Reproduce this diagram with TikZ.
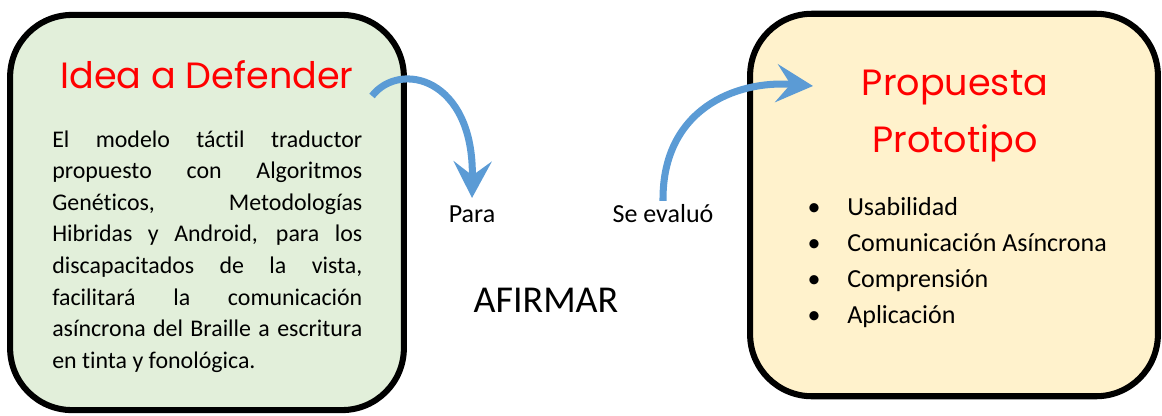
\documentclass[tikz,border=0pt]{standalone}
\usepackage{fontspec}
\setmainfont[Ligatures=NoCommon]{Carlito}
\newfontfamily\headfont{Poppins}
\usetikzlibrary{arrows.meta}
\definecolor{mint}{RGB}{226,239,218}
\definecolor{cream}{RGB}{255,242,204}
\definecolor{sky}{RGB}{91,155,213}
\definecolor{scarlet}{RGB}{255,0,0}

\begin{document}
\begin{tikzpicture}[x=0.025cm,y=-0.025cm,
    panel/.style={draw=black,line width=4.3pt,rounded corners=44pt},
    headline/.style={font=\headfont\fontsize{26}{30}\selectfont,text=scarlet,inner sep=0pt},
    bodytext/.style={font=\fontsize{17}{22.5}\selectfont,inner sep=0pt},
    label/.style={font=\fontsize{18.5}{22}\selectfont,inner sep=0pt},
    flow/.style={draw=sky,line width=5pt,-{Stealth[length=26pt,width=27pt,inset=10pt]}}]
        \useasboundingbox (0,0) rectangle (1162,415);
        \node (ideabox) [panel,fill=mint,minimum width=280pt,minimum height=281pt] at (207,212.5) {};
        \node (protobox) [panel,fill=cream,minimum width=290pt,minimum height=272pt] at (954,205) {};
        \node (ideatitle) [headline,anchor=base] at (207,88) {Idea a Defender};
        \node (ideatext) [bodytext,anchor=base west,text width=220.5pt,align=justify] at (52,147) {\hyphenpenalty=10000
          El modelo táctil traductor\linebreak propuesto con Algoritmos\linebreak Genéticos, Metodologías\linebreak
          Hibridas y Android, para los\linebreak discapacitados de la vista,\linebreak facilitará la comunicación\linebreak
          asíncrona del Braille a escritura\linebreak en tinta y fonológica.};
        \node (prop1) [headline,anchor=base] at (955,95) {Propuesta};
        \node (prop2) [headline,anchor=base] at (955,152) {Prototipo};
        \foreach \item [count=\k from 0] in {Usabilidad,Comunicación Asíncrona,Comprensión,Aplicación}{
          \node (dot\k) [label,anchor=base] at (814,215+36*\k) {\textbullet};
          \node (item\k) [label,anchor=base west] at (847,215+36*\k) {\item};
        }
        \node (para) [label,anchor=base] at (472,222) {Para};
        \node (evalua) [label,anchor=base] at (663,222) {Se evaluó};
        \node (afirmar) [font=\fontsize{27}{30}\selectfont,anchor=base,inner sep=0pt] at (546,312) {AFIRMAR};
        \coordinate (from1) at (372,96);
        \coordinate (to2) at (813,86);
        \draw[flow] (from1) .. controls (400,60) and (474,78) .. ([yshift=5pt]para.north);
        \draw[flow] ([yshift=2pt]evalua.north) .. controls (662,110) and (735,80) .. (to2);
      \end{tikzpicture}
\end{document}
